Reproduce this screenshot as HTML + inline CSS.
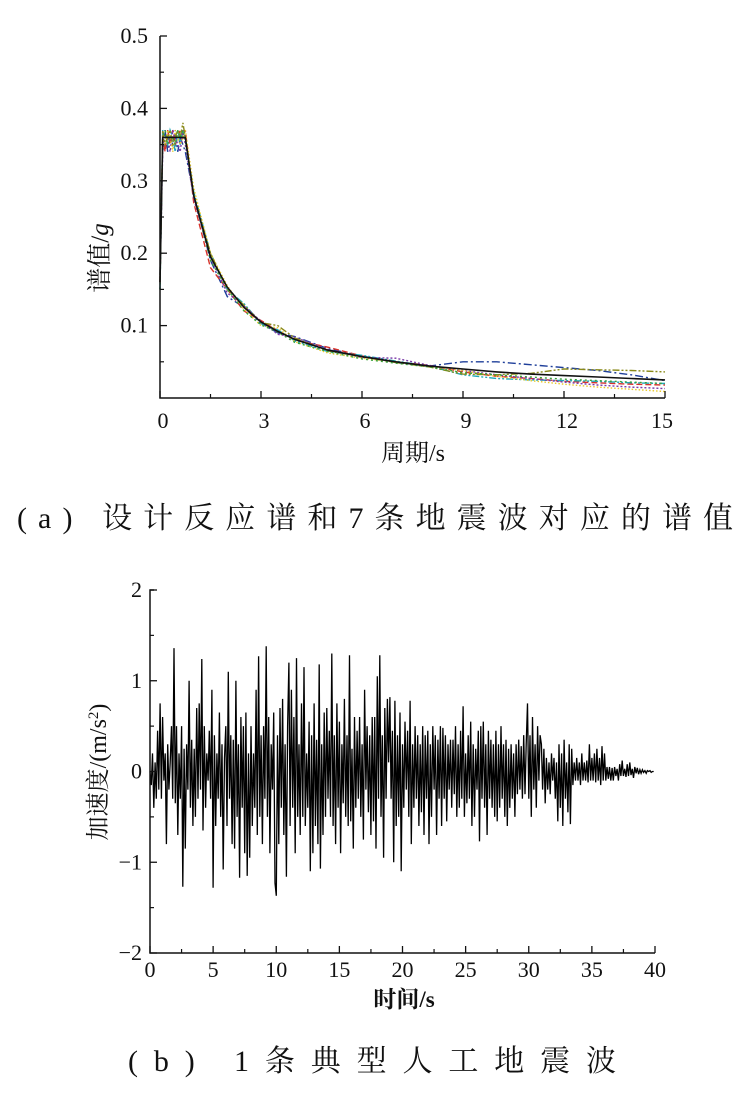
<!DOCTYPE html>
<html><head><meta charset="utf-8">
<style>
html,body{margin:0;padding:0;background:#fff;}
svg{display:block;}
text{font-family:"Liberation Serif","Noto Serif CJK SC",serif;fill:#111;}
</style></head>
<body>
<svg id="fig" width="751" height="1111" viewBox="0 0 751 1111">
<g id="chartA"></g>
<g id="chartB"></g>
<text x="375" y="528" font-size="30" text-anchor="middle" textLength="716" lengthAdjust="spacing">(a) 设计反应谱和7条地震波对应的谱值</text>
<text x="372" y="1071" font-size="30" text-anchor="middle" textLength="488" lengthAdjust="spacing">(b) 1条典型人工地震波</text>
</svg>
<script>
// ---------- Chart A data ----------
const periods = [0,0.08,0.15,0.23,0.3,0.38,0.45,0.53,0.6,0.68,0.75,1,1.5,2,2.5,3,3.5,4,5,6,7,8,9,10,11,12,13,14,15];
const designSpectrum = [0.16,0.36,0.36,0.36,0.36,0.36,0.36,0.36,0.36,0.36,0.36,0.28,0.195,0.153,0.125,0.105,0.092,0.081,0.066,0.057,0.050,0.044,0.040,0.036,0.033,0.031,0.029,0.027,0.025];
const wave1 = [0.17,0.35,0.37,0.34,0.36,0.35,0.37,0.34,0.36,0.35,0.34,0.28,0.19,0.14,0.125,0.103,0.090,0.085,0.068,0.058,0.049,0.044,0.050,0.050,0.046,0.042,0.038,0.032,0.024];
const wave2 = [0.16,0.36,0.34,0.37,0.35,0.37,0.35,0.36,0.37,0.36,0.37,0.27,0.18,0.15,0.12,0.107,0.093,0.080,0.070,0.058,0.050,0.045,0.036,0.030,0.027,0.023,0.021,0.019,0.018];
const wave3 = [0.15,0.37,0.36,0.35,0.37,0.36,0.34,0.37,0.35,0.37,0.36,0.285,0.20,0.15,0.13,0.103,0.094,0.079,0.064,0.059,0.051,0.044,0.032,0.027,0.025,0.024,0.023,0.021,0.020];
const wave4 = [0.16,0.34,0.36,0.36,0.34,0.37,0.36,0.35,0.34,0.37,0.35,0.275,0.195,0.145,0.127,0.106,0.088,0.084,0.067,0.056,0.055,0.045,0.038,0.032,0.027,0.022,0.018,0.015,0.013];
const wave5 = [0.17,0.36,0.35,0.37,0.36,0.34,0.37,0.36,0.35,0.36,0.37,0.29,0.20,0.155,0.122,0.100,0.097,0.078,0.062,0.055,0.050,0.044,0.038,0.030,0.024,0.019,0.015,0.012,0.009];
const wave6 = [0.16,0.37,0.35,0.36,0.37,0.35,0.36,0.37,0.36,0.38,0.36,0.28,0.20,0.15,0.128,0.104,0.100,0.083,0.065,0.057,0.049,0.043,0.033,0.032,0.034,0.040,0.039,0.038,0.036];
const wave7 = [0.15,0.36,0.37,0.35,0.36,0.36,0.35,0.37,0.36,0.37,0.355,0.28,0.19,0.15,0.12,0.101,0.091,0.077,0.064,0.054,0.048,0.043,0.035,0.032,0.029,0.026,0.024,0.022,0.020];
const xTicksA = [0,3,6,9,12,15];
const yTicksA = [0.1,0.2,0.3,0.4,0.5];

// ---------- Chart B data ----------
const dtB = 0.1;
const accel = [
0,-0.15,0.2,-0.4,0.1,-0.3,0.45,-0.2,0.75,-0.3,0.6,-0.1,0.2,-0.8,0.3,-0.2,0.1,0.5,-0.3,1.36,
-0.35,0.5,-0.7,0.2,-0.3,0.5,-1.27,0.25,-0.85,0.3,-0.2,1.0,-0.4,0.35,-0.6,0.25,-0.5,0.7,-0.3,0.75,
-0.2,1.24,-0.65,0.5,-0.4,0.2,-0.1,0.45,-0.3,0.9,-1.28,0.4,-0.6,0.2,-0.3,0.65,-0.5,0.3,-1.08,0.15,
0.5,-0.6,1.1,-0.3,0.4,-0.8,0.35,-0.85,1.0,-0.5,0.3,-1.17,0.6,-0.4,0.5,-0.9,0.65,-1.15,0.2,-0.95,
0.5,-0.6,0.2,-0.4,0.9,-0.7,1.27,-0.5,0.4,-0.8,0.5,-0.3,1.38,-0.5,0.6,-0.9,0.3,-0.2,0.65,-1.23,
-1.37,0.4,-0.8,0.7,-0.4,0.8,-0.7,0.3,-1.16,0.5,1.2,-0.6,0.9,-0.4,0.6,-0.9,1.25,-0.5,0.3,-0.7,
0.75,-0.5,1.15,-0.6,0.2,-0.4,0.55,-1.1,0.4,-0.9,0.75,-0.6,0.35,-0.8,1.18,-1.07,0.3,-0.7,0.65,-0.5,
0.7,-0.3,0.45,-0.5,1.3,-0.6,0.4,-0.8,0.75,-0.4,0.55,-0.9,0.3,-0.35,0.8,-0.5,0.4,-0.6,1.28,-0.55,
0.25,-0.85,0.6,-0.4,0.45,-0.3,0.6,-0.5,0.3,-0.75,0.9,-0.2,0.5,-0.45,0.4,-0.7,0.6,-0.55,0.6,-0.85,
1.05,-0.3,1.28,-0.5,0.4,-0.95,0.7,-0.3,0.8,0.1,0.82,-0.3,0.45,-1.0,0.78,-0.6,0.4,-0.5,0.65,-1.1,
0.3,-0.4,0.55,-0.2,0.45,-0.5,0.78,-0.8,0.3,-0.4,0.5,-0.3,0.4,-0.6,0.3,-0.45,0.5,-0.7,0.4,-0.3,
0.45,-0.8,0.3,-0.5,0.5,-0.2,0.4,-0.7,0.35,-0.3,0.5,-0.6,0.48,-0.3,0.4,-0.55,0.3,-0.2,0.35,-0.4,
0.35,-0.25,0.5,-0.5,0.3,-0.4,0.45,-0.3,0.72,-0.5,0.2,-0.35,0.4,-0.3,0.55,-0.6,0.3,-0.5,0.25,-0.2,
0.45,-0.77,0.5,-0.3,0.55,-0.4,0.3,-0.7,0.45,-0.3,0.35,-0.4,0.3,-0.5,0.45,-0.55,0.3,-0.4,0.5,-0.3,
0.3,-0.5,0.35,-0.6,0.25,-0.4,0.3,-0.3,0.2,-0.5,0.3,-0.25,0.35,-0.2,0.28,-0.3,0.4,-0.25,0.3,0.75,
-0.3,0.4,-0.5,0.6,-0.2,0.3,-0.4,0.5,-0.1,0.4,0.3,-0.2,0.25,-0.35,0.15,-0.2,0.1,-0.25,0.2,-0.1,
0.15,-0.3,0.1,-0.55,0.3,-0.4,0.2,-0.6,0.35,-0.3,0.1,-0.45,0.3,-0.58,0.25,-0.15,0.1,-0.1,0.15,-0.1,
0.1,-0.15,0.2,-0.1,0.1,-0.1,0.12,-0.12,0.3,-0.1,0.15,-0.1,0.2,-0.12,0.25,-0.1,0.15,-0.15,0.28,-0.1,
0.2,-0.1,0.05,-0.08,0.05,-0.1,0.04,-0.1,0.05,-0.05,0.03,-0.1,0.08,-0.05,0.12,-0.05,0.03,-0.06,0.08,-0.05,
0.1,-0.04,0.03,-0.07,0.05,-0.02,0.04,-0.03,0.02,-0.02,0.02,-0.01,0.01,-0.02,0.01,0,0.01,-0.01,0,0];
const xTicksB = [0,5,10,15,20,25,30,35,40];
const yTicksB = [-2,-1,0,1,2];

const NS = "http://www.w3.org/2000/svg";
function mk(parent, tag, attrs){
  const e = document.createElementNS(NS, tag);
  for (const k in attrs) e.setAttribute(k, attrs[k]);
  parent.appendChild(e);
  return e;
}

// ---------- Chart A ----------
(function(){
  const g = document.getElementById('chartA');
  const X0=160, X1=665, Y0=398, Y1=36;
  const sx = v => X0 + (v-0)/(15-0)*(X1-X0);
  const sy = v => Y0 - (v-0)/(0.5-0)*(Y0-Y1);
  const styles = [
    {d:wave1,c:'#1f3f9a',dash:'8 3 2 3',n:'wave-1-line'},
    {d:wave2,c:'#d8322a',dash:'6 3',n:'wave-2-line'},
    {d:wave3,c:'#1fa7b8',dash:'7 2 2 2 2 2',n:'wave-3-line'},
    {d:wave4,c:'#7a3aa8',dash:'2 2',n:'wave-4-line'},
    {d:wave5,c:'#e8c92a',dash:'1.5 2',n:'wave-5-line'},
    {d:wave6,c:'#8a8a1a',dash:'7 2 2 2 2 2',n:'wave-6-line'},
    {d:wave7,c:'#3aa23a',dash:'2 3',n:'wave-7-line'}
  ];
  styles.forEach(s=>{
    const p = mk(g,'polyline',{points:s.d.map((v,i)=>sx(periods[i]).toFixed(1)+','+sy(v).toFixed(1)).join(' '),fill:'none',stroke:s.c,'stroke-width':1.4,'stroke-dasharray':s.dash});
    
    
  });
  const dl = mk(g,'polyline',{points:designSpectrum.map((v,i)=>sx(periods[i]).toFixed(1)+','+sy(v).toFixed(1)).join(' '),fill:'none',stroke:'#111','stroke-width':1.6});
  
  
  const ax = mk(g,'path',{d:`M${X0},${Y1} V${Y0} H${X1}`,fill:'none',stroke:'#111','stroke-width':1.5});
  
  
  for(let v=0.05; v<0.5; v+=0.1){ mk(g,'line',{x1:X0,x2:X0+4,y1:sy(v),y2:sy(v),stroke:'#111','stroke-width':1.2}); }
  for(let v=1.5; v<15; v+=3){ mk(g,'line',{x1:sx(v),x2:sx(v),y1:Y0,y2:Y0-4,stroke:'#111','stroke-width':1.2}); }
  yTicksA.forEach(v=>{
    mk(g,'line',{x1:X0,x2:X0+7,y1:sy(v),y2:sy(v),stroke:'#111','stroke-width':1.3});
    const t = mk(g,'text',{x:X0-12,y:sy(v)+7,'font-size':22,'text-anchor':'end'});
    t.textContent = v.toFixed(1);
    
    
  });
  xTicksA.forEach(v=>{
    mk(g,'line',{x1:sx(v),x2:sx(v),y1:Y0,y2:Y0-7,stroke:'#111','stroke-width':1.3});
    const t = mk(g,'text',{x:sx(v)+(v===15?-3:3),y:Y0+30,'font-size':22,'text-anchor':'middle'});
    t.textContent = v;
    
    
  });
  const xt = mk(g,'text',{x:413,y:461,'font-size':24,'text-anchor':'middle'});
  xt.textContent = '周期/s';
  
  
  const yt = mk(g,'text',{x:0,y:0,'font-size':25,'text-anchor':'middle',transform:'translate(108,258) rotate(-90)'});
  yt.innerHTML = '谱值/<tspan font-style="italic">g</tspan>';
  
  
})();

// ---------- Chart B ----------
(function(){
  const g = document.getElementById('chartB');
  const X0=150, X1=655, Y0=953, Y1=590;
  const sx = v => X0 + v/40*(X1-X0);
  const sy = v => Y0 - (v+2)/4*(Y0-Y1);
  const line = mk(g,'polyline',{points:accel.map((v,i)=>sx(i*dtB).toFixed(1)+','+sy(v).toFixed(1)).join(' '),fill:'none',stroke:'#000','stroke-width':1.3,'stroke-linejoin':'miter'});
  
  
  const ax = mk(g,'path',{d:`M${X0+4},${Y1} H${X0} V${Y0} H${X1}`,fill:'none',stroke:'#111','stroke-width':1.5});
  
  
  for(let v=-1.5; v<2; v+=1){ mk(g,'line',{x1:X0,x2:X0+4,y1:sy(v),y2:sy(v),stroke:'#111','stroke-width':1.2}); }
  for(let v=2.5; v<40; v+=5){ mk(g,'line',{x1:sx(v),x2:sx(v),y1:Y0,y2:Y0-4,stroke:'#111','stroke-width':1.2}); }
  yTicksB.forEach(v=>{
    mk(g,'line',{x1:X0,x2:X0+7,y1:sy(v),y2:sy(v),stroke:'#111','stroke-width':1.3});
    const t = mk(g,'text',{x:X0-8,y:sy(v)+7,'font-size':22,'text-anchor':'end'});
    t.textContent = v<0 ? '\u2212'+Math.abs(v) : String(v);
    
    
  });
  xTicksB.forEach(v=>{
    mk(g,'line',{x1:sx(v),x2:sx(v),y1:Y0,y2:Y0-7,stroke:'#111','stroke-width':1.3});
    const t = mk(g,'text',{x:sx(v),y:Y0+24,'font-size':22,'text-anchor':'middle'});
    t.textContent = v;
    
    
  });
  const xt = mk(g,'text',{x:404,y:1007,'font-size':23,'text-anchor':'middle','font-weight':'bold'});
  xt.textContent = '时间/s';
  
  
  const yt = mk(g,'text',{x:0,y:0,'font-size':24,'text-anchor':'middle',transform:'translate(106,772) rotate(-90)'});
  yt.innerHTML = '加速度/(m/s<tspan dy="-8" font-size="15">2</tspan><tspan dy="8">)</tspan>';
  
  
})();
</script>
</body></html>
